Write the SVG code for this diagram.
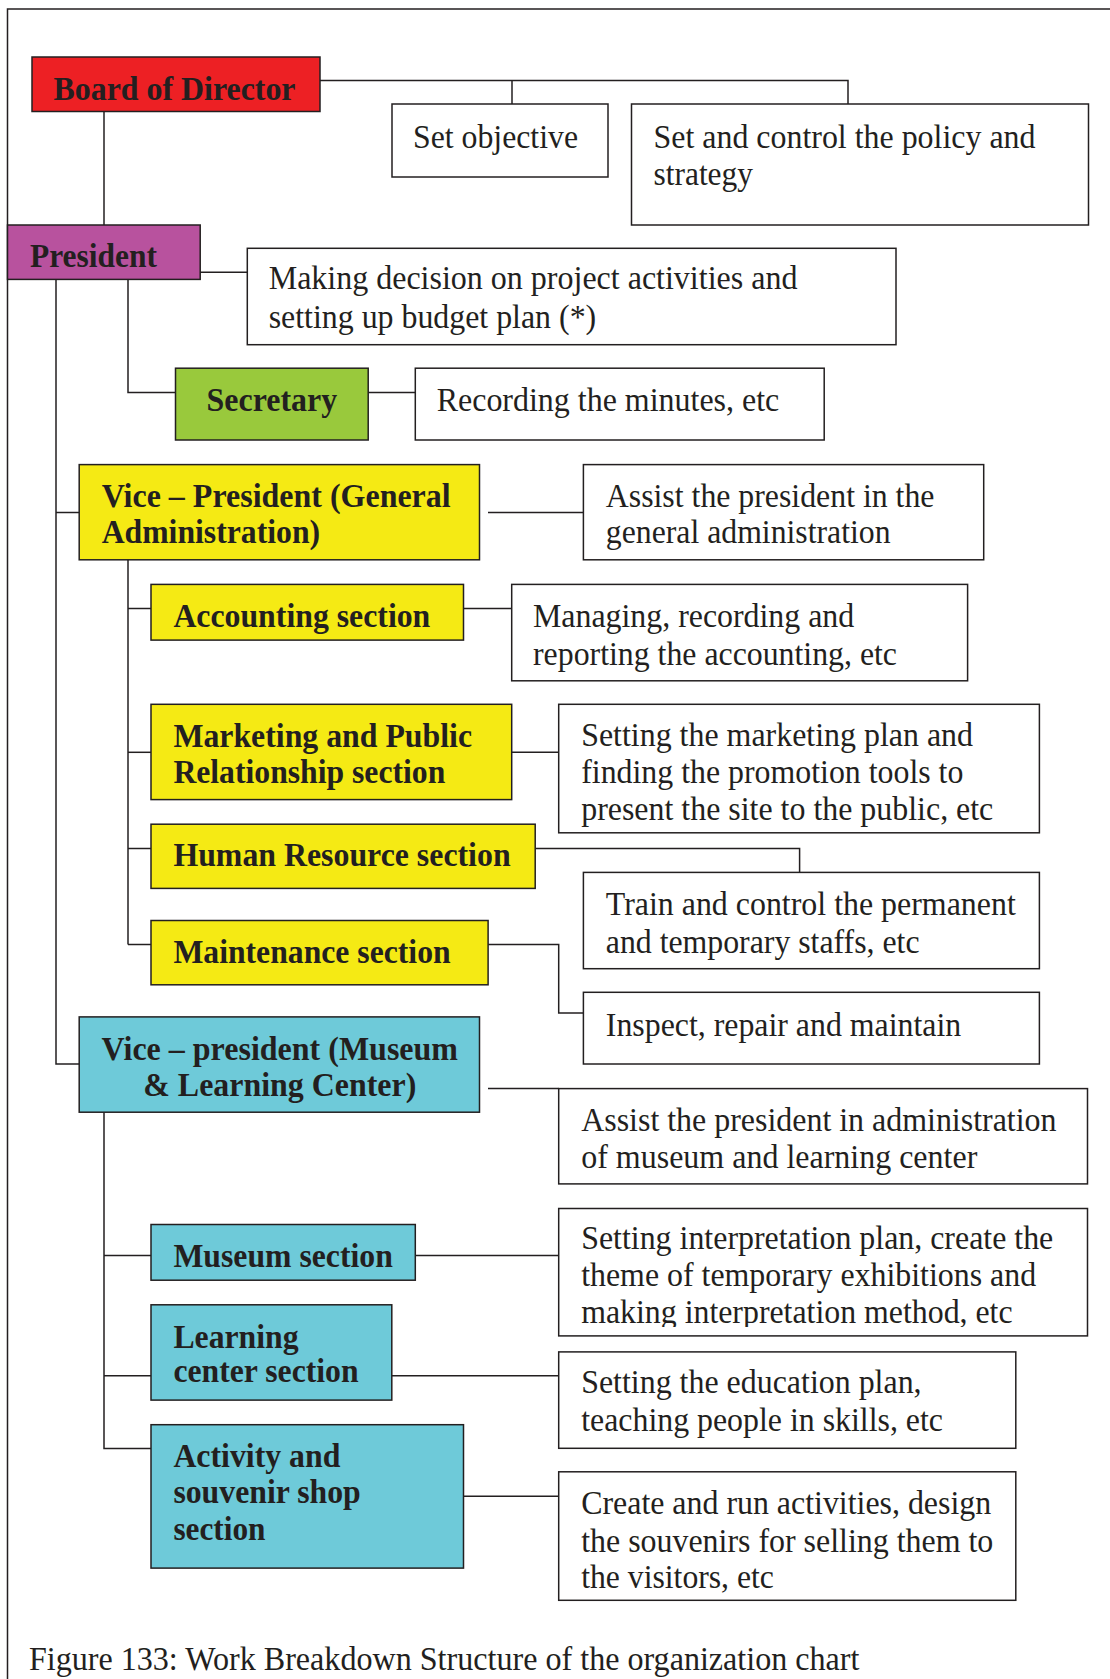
<svg xmlns="http://www.w3.org/2000/svg" width="1110" height="1679" viewBox="0 0 1110 1679">
  <style>
    .frame { fill: none; stroke: #231F20; stroke-width: 1.5; }
    .box { stroke: #231F20; stroke-width: 1.5; }
    .plain { fill: #FFFFFF; }
    .red { fill: #ED2024; }
    .purple { fill: #B8529E; }
    .green { fill: #99C93C; }
    .yellow { fill: #F5EA14; }
    .cyan { fill: #6ECAD9; }
    .conn { fill: none; stroke: #231F20; stroke-width: 1.5; }
    text { font-family: "Liberation Serif", "Times New Roman", serif; font-size: 33px; fill: #231F20; }
    .b { font-weight: bold; }
  </style>
  <defs>
    <clipPath id="interpClip">
      <rect x="558" y="1208" width="530" height="119"/>
    </clipPath>
  </defs>

  <rect width="1110" height="1679" fill="#FFFFFF"/>
  <!-- page frame (top and left edges) -->
  <polyline class="frame" points="1110,9 7.5,9 7.5,1679"/>

  <!-- connectors -->
  <g id="connectors">
    <!-- board to its duties -->
    <polyline class="conn" points="320,80.5 848,80.5 848,104"/>
    <line class="conn" x1="512" y1="80.5" x2="512" y2="104"/>
    <!-- board to president -->
    <line class="conn" x1="104" y1="104.7" x2="104" y2="225"/>
    <!-- president to its duty -->
    <line class="conn" x1="200" y1="272.2" x2="247.3" y2="272.2"/>
    <!-- president spine to secretary -->
    <polyline class="conn" points="128,272.2 128,392.5 175.5,392.5"/>
    <line class="conn" x1="368.2" y1="392.5" x2="415.3" y2="392.5"/>
    <!-- president main spine -->
    <polyline class="conn" points="56,272.2 56,1064 79.2,1064"/>
    <line class="conn" x1="56" y1="512.5" x2="79.2" y2="512.5"/>
    <!-- VP general administration -->
    <line class="conn" x1="488" y1="512.5" x2="583.4" y2="512.5"/>
    <line class="conn" x1="128" y1="559.8" x2="128" y2="944.5"/>
    <line class="conn" x1="128" y1="608.5" x2="151" y2="608.5"/>
    <line class="conn" x1="463.5" y1="608.5" x2="511.7" y2="608.5"/>
    <line class="conn" x1="128" y1="752.3" x2="151" y2="752.3"/>
    <line class="conn" x1="511.7" y1="752.3" x2="558.7" y2="752.3"/>
    <line class="conn" x1="128" y1="848.5" x2="151" y2="848.5"/>
    <polyline class="conn" points="535.2,848.5 799.6,848.5 799.6,872.4"/>
    <line class="conn" x1="128" y1="944.5" x2="151" y2="944.5"/>
    <polyline class="conn" points="488.1,944.5 558.7,944.5 558.7,1013 583.4,1013"/>
    <!-- VP museum & learning center -->
    <line class="conn" x1="488" y1="1088.6" x2="558.7" y2="1088.6"/>
    <polyline class="conn" points="104,1112.2 104,1448.5 151,1448.5"/>
    <line class="conn" x1="104" y1="1255.5" x2="151" y2="1255.5"/>
    <line class="conn" x1="415.3" y1="1255.5" x2="558.7" y2="1255.5"/>
    <line class="conn" x1="104" y1="1375.8" x2="151" y2="1375.8"/>
    <line class="conn" x1="391.8" y1="1375.8" x2="558.7" y2="1375.8"/>
    <line class="conn" x1="463.5" y1="1496.2" x2="558.7" y2="1496.2"/>
  </g>

  <!-- board of director -->
  <g id="board">
    <rect class="box red" x="32" y="57" width="288" height="54.5"/>
    <text class="b" x="53.5" y="100" textLength="242" lengthAdjust="spacingAndGlyphs">Board of Director</text>
  </g>
  <g id="set-objective">
    <rect class="box plain" x="392" y="104" width="216" height="73"/>
    <text x="413" y="147.5" textLength="165" lengthAdjust="spacingAndGlyphs">Set objective</text>
  </g>
  <g id="set-policy">
    <rect class="box plain" x="631.5" y="104" width="457" height="121"/>
    <text x="653.5" y="147.5" textLength="382" lengthAdjust="spacingAndGlyphs">Set and control the policy and</text>
    <text x="653.5" y="184.5" textLength="99.5" lengthAdjust="spacingAndGlyphs">strategy</text>
  </g>

  <!-- president -->
  <g id="president">
    <rect class="box purple" x="7.5" y="225" width="192.7" height="54.4"/>
    <text class="b" x="30" y="267" textLength="127" lengthAdjust="spacingAndGlyphs">President</text>
  </g>
  <g id="president-duty">
    <rect class="box plain" x="247.3" y="248.3" width="648.7" height="96.4"/>
    <text x="268.7" y="289" textLength="528.7" lengthAdjust="spacingAndGlyphs">Making decision on project activities and</text>
    <text x="268.7" y="327.7" textLength="327.5" lengthAdjust="spacingAndGlyphs">setting up budget plan (*)</text>
  </g>

  <!-- secretary -->
  <g id="secretary">
    <rect class="box green" x="175.5" y="368.2" width="192.7" height="71.8"/>
    <text class="b" x="206.6" y="410.5" textLength="130.6" lengthAdjust="spacingAndGlyphs">Secretary</text>
  </g>
  <g id="secretary-duty">
    <rect class="box plain" x="415.3" y="368.2" width="408.9" height="71.8"/>
    <text x="436.7" y="410.5" textLength="342.6" lengthAdjust="spacingAndGlyphs">Recording the minutes, etc</text>
  </g>

  <!-- vice president, general administration -->
  <g id="vp-general">
    <rect class="box yellow" x="79.2" y="464.6" width="400.3" height="95.2"/>
    <text class="b" x="101.7" y="507.3" textLength="349" lengthAdjust="spacingAndGlyphs">Vice – President (General</text>
    <text class="b" x="101.7" y="542.7" textLength="218.4" lengthAdjust="spacingAndGlyphs">Administration)</text>
  </g>
  <g id="vp-general-duty">
    <rect class="box plain" x="583.4" y="464.6" width="400.3" height="95.2"/>
    <text x="605.8" y="507.3" textLength="328.7" lengthAdjust="spacingAndGlyphs">Assist the president in the</text>
    <text x="605.8" y="542.7" textLength="284.8" lengthAdjust="spacingAndGlyphs">general administration</text>
  </g>

  <g id="accounting">
    <rect class="box yellow" x="151" y="584.4" width="312.5" height="55.7"/>
    <text class="b" x="173.4" y="627.4" textLength="256.9" lengthAdjust="spacingAndGlyphs">Accounting section</text>
  </g>
  <g id="accounting-duty">
    <rect class="box plain" x="511.7" y="584.4" width="455.9" height="96.4"/>
    <text x="533" y="626.5" textLength="321.2" lengthAdjust="spacingAndGlyphs">Managing, recording and</text>
    <text x="533" y="664.9" textLength="364" lengthAdjust="spacingAndGlyphs">reporting the accounting, etc</text>
  </g>

  <g id="marketing">
    <rect class="box yellow" x="151" y="704.3" width="360.7" height="95.3"/>
    <text class="b" x="173.4" y="746.5" textLength="298.6" lengthAdjust="spacingAndGlyphs">Marketing and Public</text>
    <text class="b" x="173.4" y="782.8" textLength="271.9" lengthAdjust="spacingAndGlyphs">Relationship section</text>
  </g>
  <g id="marketing-duty">
    <rect class="box plain" x="558.7" y="704.3" width="480.7" height="128.5"/>
    <text x="581.2" y="745.8" textLength="391.8" lengthAdjust="spacingAndGlyphs">Setting the marketing plan and</text>
    <text x="581.2" y="782.9" textLength="382.2" lengthAdjust="spacingAndGlyphs">finding the promotion tools to</text>
    <text x="581.2" y="819.5" textLength="412.1" lengthAdjust="spacingAndGlyphs">present the site to the public, etc</text>
  </g>

  <g id="human-resource">
    <rect class="box yellow" x="151" y="824.2" width="384.2" height="64.2"/>
    <text class="b" x="173.4" y="866.1" textLength="337.2" lengthAdjust="spacingAndGlyphs">Human Resource section</text>
  </g>
  <g id="human-resource-duty">
    <rect class="box plain" x="583.4" y="872.4" width="456" height="96.3"/>
    <text x="605.8" y="914.8" textLength="410" lengthAdjust="spacingAndGlyphs">Train and control the permanent</text>
    <text x="605.8" y="952.7" textLength="313.7" lengthAdjust="spacingAndGlyphs">and temporary staffs, etc</text>
  </g>

  <g id="maintenance">
    <rect class="box yellow" x="151" y="920.5" width="337.1" height="64.3"/>
    <text class="b" x="173.4" y="962.6" textLength="277.2" lengthAdjust="spacingAndGlyphs">Maintenance section</text>
  </g>
  <g id="maintenance-duty">
    <rect class="box plain" x="583.4" y="992.3" width="456" height="71.7"/>
    <text x="605.8" y="1035.5" textLength="355.4" lengthAdjust="spacingAndGlyphs">Inspect, repair and maintain</text>
  </g>

  <!-- vice president, museum & learning center -->
  <g id="vp-museum">
    <rect class="box cyan" x="79.2" y="1016.9" width="400.3" height="95.3"/>
    <text class="b" x="279.8" y="1059.6" text-anchor="middle" textLength="356.4" lengthAdjust="spacingAndGlyphs">Vice – president (Museum</text>
    <text class="b" x="279.8" y="1095.8" text-anchor="middle" textLength="273" lengthAdjust="spacingAndGlyphs">&amp; Learning Center)</text>
  </g>
  <g id="vp-museum-duty">
    <rect class="box plain" x="558.7" y="1088.6" width="528.8" height="95.3"/>
    <text x="581.2" y="1131.2" textLength="475.3" lengthAdjust="spacingAndGlyphs">Assist the president in administration</text>
    <text x="581.2" y="1168.4" textLength="396.1" lengthAdjust="spacingAndGlyphs">of museum and learning center</text>
  </g>

  <g id="museum">
    <rect class="box cyan" x="151" y="1224.5" width="264.3" height="55.7"/>
    <text class="b" x="173.4" y="1267" textLength="219.4" lengthAdjust="spacingAndGlyphs">Museum section</text>
  </g>
  <g id="museum-duty">
    <rect class="box plain" x="558.7" y="1208.5" width="528.8" height="127.4"/>
    <text x="581.2" y="1248.5" textLength="472.1" lengthAdjust="spacingAndGlyphs">Setting interpretation plan, create the</text>
    <text x="581.2" y="1285.5" textLength="454.9" lengthAdjust="spacingAndGlyphs">theme of temporary exhibitions and</text>
    <text x="581.2" y="1322.6" textLength="431.4" lengthAdjust="spacingAndGlyphs" clip-path="url(#interpClip)">making interpretation method, etc</text>
  </g>

  <g id="learning">
    <rect class="box cyan" x="151" y="1304.8" width="240.8" height="95.3"/>
    <text class="b" x="173.4" y="1347.5" textLength="125.2" lengthAdjust="spacingAndGlyphs">Learning</text>
    <text class="b" x="173.4" y="1382.4" textLength="185.2" lengthAdjust="spacingAndGlyphs">center section</text>
  </g>
  <g id="learning-duty">
    <rect class="box plain" x="558.7" y="1351.9" width="457.1" height="96.4"/>
    <text x="581.2" y="1393.4" textLength="340.4" lengthAdjust="spacingAndGlyphs">Setting the education plan,</text>
    <text x="581.2" y="1431.1" textLength="361.8" lengthAdjust="spacingAndGlyphs">teaching people in skills, etc</text>
  </g>

  <g id="activity">
    <rect class="box cyan" x="151" y="1424.7" width="312.5" height="143.4"/>
    <text class="b" x="173.4" y="1466.9" textLength="167" lengthAdjust="spacingAndGlyphs">Activity and</text>
    <text class="b" x="173.4" y="1503.3" textLength="187.3" lengthAdjust="spacingAndGlyphs">souvenir shop</text>
    <text class="b" x="173.4" y="1540.4" textLength="92.1" lengthAdjust="spacingAndGlyphs">section</text>
  </g>
  <g id="activity-duty">
    <rect class="box plain" x="558.7" y="1471.8" width="457.1" height="128.5"/>
    <text x="581.2" y="1514" textLength="410" lengthAdjust="spacingAndGlyphs">Create and run activities, design</text>
    <text x="581.2" y="1551.5" textLength="412.1" lengthAdjust="spacingAndGlyphs">the souvenirs for selling them to</text>
    <text x="581.2" y="1588.2" textLength="192.7" lengthAdjust="spacingAndGlyphs">the visitors, etc</text>
  </g>

  <!-- caption -->
  <text x="28.9" y="1670" textLength="830.6" lengthAdjust="spacingAndGlyphs">Figure 133: Work Breakdown Structure of the organization chart</text>
</svg>
